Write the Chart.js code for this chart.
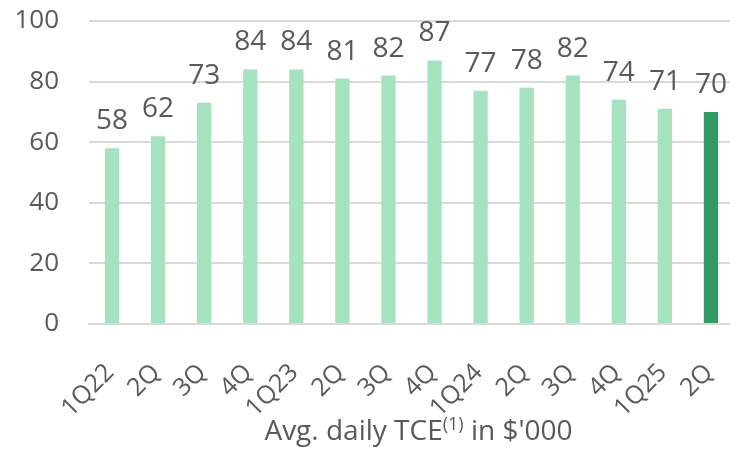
<!DOCTYPE html>
<html>
<head>
<meta charset="utf-8">
<script src="https://cdn.jsdelivr.net/npm/chart.js@4/dist/chart.umd.min.js"></script>
<style>
  html, body { margin: 0; padding: 0; background: #ffffff; overflow: hidden; }
  canvas { display: block; }
</style>
</head>
<body>
<canvas id="c" width="736" height="449"></canvas>
<script>
// Quarterly average daily TCE, $'000
const quarters = ['1Q22', '2Q', '3Q', '4Q', '1Q23', '2Q', '3Q', '4Q', '1Q24', '2Q', '3Q', '4Q', '1Q25', '2Q'];
const tceValues = [58, 62, 73, 84, 84, 81, 82, 87, 77, 78, 82, 74, 71, 70];
const yTicks = [0, 20, 40, 60, 80, 100];

const LIGHT = '#a6e1c0';
const DARK = '#349a64';
const TEXT = '#595959';
const FONT = "'Open Sans', sans-serif";

const barColors = tceValues.map((v, i) => (i === tceValues.length - 1 ? DARK : LIGHT));

// Value labels above each bar
const valueLabels = {
  id: 'valueLabels',
  afterDatasetsDraw(chart) {
    const ctx = chart.ctx;
    const meta = chart.getDatasetMeta(0);
    ctx.save();
    ctx.font = '28px ' + FONT;
    ctx.fillStyle = TEXT;
    ctx.textAlign = 'center';
    ctx.textBaseline = 'alphabetic';
    meta.data.forEach((bar, i) => {
      ctx.fillText(String(tceValues[i]), bar.x, bar.y - 19);
    });
    ctx.restore();
  }
};

// Axis caption with superscript footnote marker
const caption = {
  id: 'caption',
  afterDraw(chart) {
    const ctx = chart.ctx;
    const parts = [
      { t: 'Avg. daily TCE', size: 28, dy: 0 },
      { t: '(1)', size: 18, dy: -10 },
      { t: " in $'000", size: 28, dy: 0 }
    ];
    ctx.save();
    ctx.fillStyle = TEXT;
    ctx.textBaseline = 'alphabetic';
    let total = 0;
    parts.forEach(p => { ctx.font = p.size + 'px ' + FONT; p.w = ctx.measureText(p.t).width; total += p.w; });
    const cx = (chart.chartArea.left + chart.chartArea.right) / 2 + 7;
    let x = cx - total / 2;
    const base = 440;
    parts.forEach(p => {
      ctx.font = p.size + 'px ' + FONT;
      ctx.textAlign = 'left';
      ctx.fillText(p.t, x, base + p.dy);
      x += p.w;
    });
    ctx.restore();
  }
};

new Chart(document.getElementById('c'), {
  type: 'bar',
  data: {
    labels: quarters,
    datasets: [{
      data: tceValues,
      backgroundColor: barColors,
      borderWidth: 0,
      categoryPercentage: 1,
      barPercentage: 0.31
    }]
  },
  options: {
    responsive: false,
    animation: false,
    layout: { padding: { top: 21, right: 2, bottom: 0, left: 0 } },
    plugins: { legend: { display: false }, tooltip: { enabled: false } },
    scales: {
      x: {
        grid: { display: false, drawTicks: false },
        border: { display: true, color: '#d9d9d9', width: 2 },
        ticks: {
          color: TEXT,
          font: { family: FONT, size: 25 },
          minRotation: 45,
          maxRotation: 45,
          padding: 34,
          labelOffset: -2,
          autoSkip: false
        },
        afterFit(scale) {
          scale.height = 125;
          scale.paddingLeft = 0;
          scale.paddingRight = 0;
        }
      },
      y: {
        min: 0,
        max: 100,
        afterBuildTicks(scale) { scale.ticks = yTicks.map(v => ({ value: v })); },
        grid: { color: '#d9d9d9', lineWidth: 2, drawTicks: false },
        border: { display: false },
        ticks: {
          color: TEXT,
          font: { family: FONT, size: 26 },
          padding: 30
        },
        afterFit(scale) {
          scale.width = 89;
          scale.paddingTop = 0;
          scale.paddingBottom = 0;
        }
      }
    }
  },
  plugins: [valueLabels, caption]
});
</script>
</body>
</html>
